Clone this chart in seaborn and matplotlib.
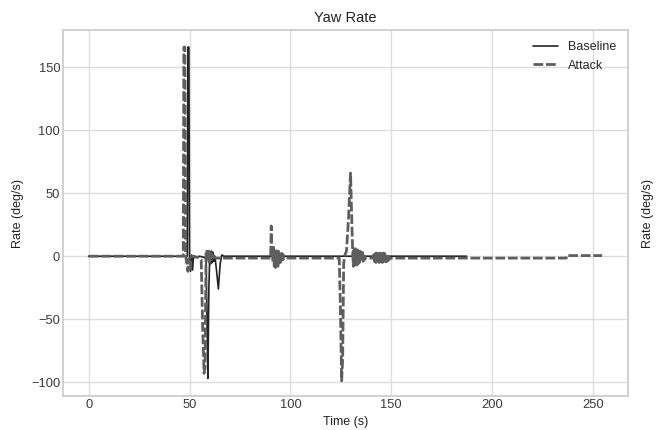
import numpy as np
import pandas as pd
import matplotlib
matplotlib.use("Agg")
import matplotlib.pyplot as plt
import seaborn as sns

# Yaw-rate traces (time in s, rate in deg/s)
baseline_t = [0, 48.9, 49.2, 49.7, 50.0, 50.5, 51.0, 51.5, 52.0, 52.6, 55.0, 57.5,
              58.2, 58.7, 59.1, 59.6, 60.1, 60.5, 60.9, 61.3, 61.7, 62.1, 62.6,
              63.3, 64.3, 65.2, 66.0, 67.0, 187.3]
baseline_v = [0, 0, 166, 166, 2, -12, 1, -11, 0, -1, 0, -1,
              -3, -55, -97, -25, 4, -6, 4, -5, 3, -4, 0,
              -10, -26, -6, 1, 0, 0]

attack_t = [0, 46.9, 47.2, 47.7, 48.1, 48.6, 49.2, 49.7, 50.3, 50.9, 52.0, 54.0,
            55.8, 56.5, 57.2, 57.7, 58.2, 58.6, 59.0, 59.4, 59.8, 60.2, 60.6,
            61.0, 61.4, 61.9, 63.0, 65.0,
            90.2, 90.5, 90.8, 91.1, 91.4, 91.7, 92.0, 92.3, 92.6, 92.9, 93.2,
            93.5, 93.8, 94.1, 94.4, 94.7, 95.0, 95.3, 95.6, 95.9, 96.2, 96.5,
            96.8, 97.2,
            124.2, 124.7, 125.4, 125.9, 126.4, 127.0, 127.8, 128.8, 129.8, 130.4,
            130.9, 131.2, 131.5, 131.8, 132.1, 132.4, 132.7, 133.0, 133.3, 133.6,
            133.9, 134.2, 134.5, 134.8, 135.1, 135.4, 135.7, 136.0, 136.3, 136.6,
            137.0, 137.5,
            140.8, 141.2, 141.6, 142.0, 142.4, 142.8, 143.2, 143.6, 144.0, 144.4,
            144.8, 145.2, 145.6, 146.0, 146.4, 146.8, 147.2, 147.6, 148.0, 148.4,
            148.8, 149.3,
            236.7, 236.9, 254.5]
attack_v = [0, 0, 166, 166, 0, -5, -12, -2, -10, 0, 0, -1,
            -3, -55, -93, -88, 3, 5, -4, 4, -5, 3, -3,
            2, -2, 0, -1.5, -1.5,
            -1.5, 24, 3, 6, -5, 7, -8, 5, -9, 6, -7, 4,
            -8, 5, -6, 3, -5, 2, -4, 2, -3, 1,
            -2, -1.5,
            -1.5, -35, -99, -82, -6, 1, 4, 30, 66, 30,
            2, -8, 5, -9, 6, -8, 4, -7, 5, -6,
            3, -5, 4, -4, 2, -3, 3, -4, 2, -3,
            -1, -1.5,
            -1.5, 1, -4, 2, -5, 2.5, -5.5, 2, -5, 2.5, -5.5,
            2, -5, 2.5, -5, 2, -4.5, 1.5, -4, 1, -3, -1.5,
            -1.5, 0.5, 0.5]

baseline = pd.DataFrame({"Time (s)": baseline_t, "Rate (deg/s)": baseline_v})
attack = pd.DataFrame({"Time (s)": attack_t, "Rate (deg/s)": attack_v})

sns.set_theme(style="whitegrid")
plt.rcParams["font.family"] = ["Liberation Sans", "DejaVu Sans"]
plt.rcParams["axes.edgecolor"] = "#cccccc"
plt.rcParams["grid.color"] = "#dddddd"

fig = plt.figure(figsize=(6.59, 4.30), dpi=100)
ax = fig.add_axes([0.0956, 0.079, 0.857, 0.851])

sns.lineplot(data=baseline, x="Time (s)", y="Rate (deg/s)", ax=ax,
             color="#222222", linewidth=1.2, label="Baseline", sort=False)
sns.lineplot(data=attack, x="Time (s)", y="Rate (deg/s)", ax=ax,
             color="#5e5e5e", linewidth=2.0, label="Attack", sort=False)
ax.lines[1].set_dashes((3.5, 1.0))

ax.set_xlim(-12.7, 267.2)
ax.set_ylim(-111, 179.5)
ax.set_xticks([0, 50, 100, 150, 200, 250])
ax.set_yticks([-100, -50, 0, 50, 100, 150])
ax.tick_params(labelsize=9.3, colors="#3a3a3a", pad=2, length=0)
ax.set_title("Yaw Rate", fontsize=10.5, color="#222222", pad=6)
ax.set_xlabel("Time (s)", fontsize=9, color="#222222", labelpad=4)
ax.set_ylabel("Rate (deg/s)", fontsize=9, color="#222222", labelpad=5)

leg = ax.legend(loc="upper right", frameon=False, fontsize=9,
                handlelength=2.0)
leg.get_lines()[1].set_dashes((3.5, 1.0))

ax2 = ax.twinx()
ax2.set_ylim(ax.get_ylim())
ax2.set_yticks([])
ax2.grid(False)
ax2.set_ylabel("Rate (deg/s)", fontsize=9, color="#222222", labelpad=10)
for s in ax2.spines.values():
    s.set_visible(False)

fig.savefig("out.png", dpi=100)
